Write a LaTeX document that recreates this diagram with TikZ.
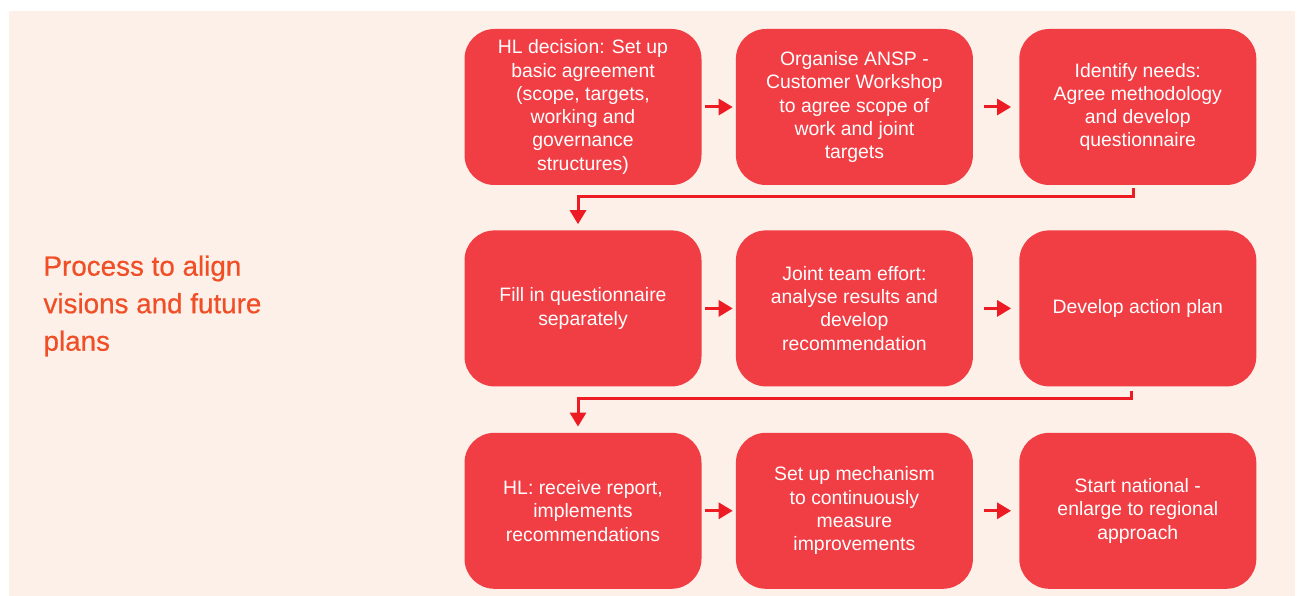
\documentclass[tikz,border=0pt]{standalone}
\usepackage{fontspec}
\setmainfont{Liberation Sans}
\usetikzlibrary{positioning,arrows.meta}

\definecolor{panelbg}{RGB}{253,240,232}
\definecolor{stepred}{RGB}{240,62,68}
\definecolor{flowred}{RGB}{237,28,36}
\definecolor{headred}{RGB}{240,78,38}

\tikzset{
  stepbox/.style={rectangle, rounded corners=30pt, fill=stepred, text=white,
    minimum width=237pt, minimum height=156pt, inner sep=0pt, align=center,
    font=\fontsize{19.4}{23.3}\selectfont},
  flow/.style={draw=flowred, line width=3pt,
    -{Triangle[length=14pt,width=16pt]}},
}

\begin{document}
\begin{tikzpicture}[x=1pt,y=-1pt]
  \useasboundingbox (0,0) rectangle (1300,596);
  \fill[panelbg] (9,11) rectangle (1295,596);

  % heading on the left
  \node[anchor=west, align=left, text=headred,
    font=\fontsize{27.8}{37.5}\selectfont\addfontfeature{FakeBold=0.5}] (title)
    at (40,306) {Process to align\\visions and future\\plans};

  % first row
  \node[stepbox] (b1) at (583,107)
    {HL decision: Set up\\basic agreement\\(scope, targets,\\working and\\governance\\structures)};
  \node[stepbox, right=34pt of b1] (b2)
    {Organise ANSP -\\Customer Workshop\\to agree scope of\\work and joint\\targets};
  \node[stepbox, right=46pt of b2] (b3)
    {Identify needs:\\Agree methodology\\and develop\\questionnaire};

  % second row
  \node[stepbox, below=45pt of b1] (b4) {Fill in questionnaire\\separately};
  \node[stepbox, below=45pt of b2] (b5)
    {Joint team effort:\\analyse results and\\develop\\recommendation};
  \node[stepbox, below=45pt of b3] (b6) {Develop action plan};

  % third row
  \node[stepbox, below=46pt of b4] (b7)
    {HL: receive report,\\implements\\recommendations};
  \node[stepbox, below=46pt of b5] (b8)
    {Set up mechanism\\to continuously\\measure\\improvements};
  \node[stepbox, below=46pt of b6] (b9)
    {Start national -\\enlarge to regional\\approach};

  % arrows within the rows
  \foreach \a/\b in {b1/b2, b4/b5, b7/b8}
    \draw[flow, shorten <=3pt, shorten >=3pt] (\a) -- (\b);
  \foreach \a/\b in {b2/b3, b5/b6, b8/b9}
    \draw[flow, shorten <=11pt, shorten >=8pt] (\a) -- (\b);

  % row to row
  \draw[flow, shorten <=3pt, shorten >=6pt]
    ([xshift=-4pt]b3.south) -- ++(0,11) -| ([xshift=-5pt]b4.north);
  \draw[flow, shorten <=4pt, shorten >=6pt]
    ([xshift=-6pt]b6.south) -- ++(0,12) -| ([xshift=-5pt]b7.north);
\end{tikzpicture}
\end{document}
